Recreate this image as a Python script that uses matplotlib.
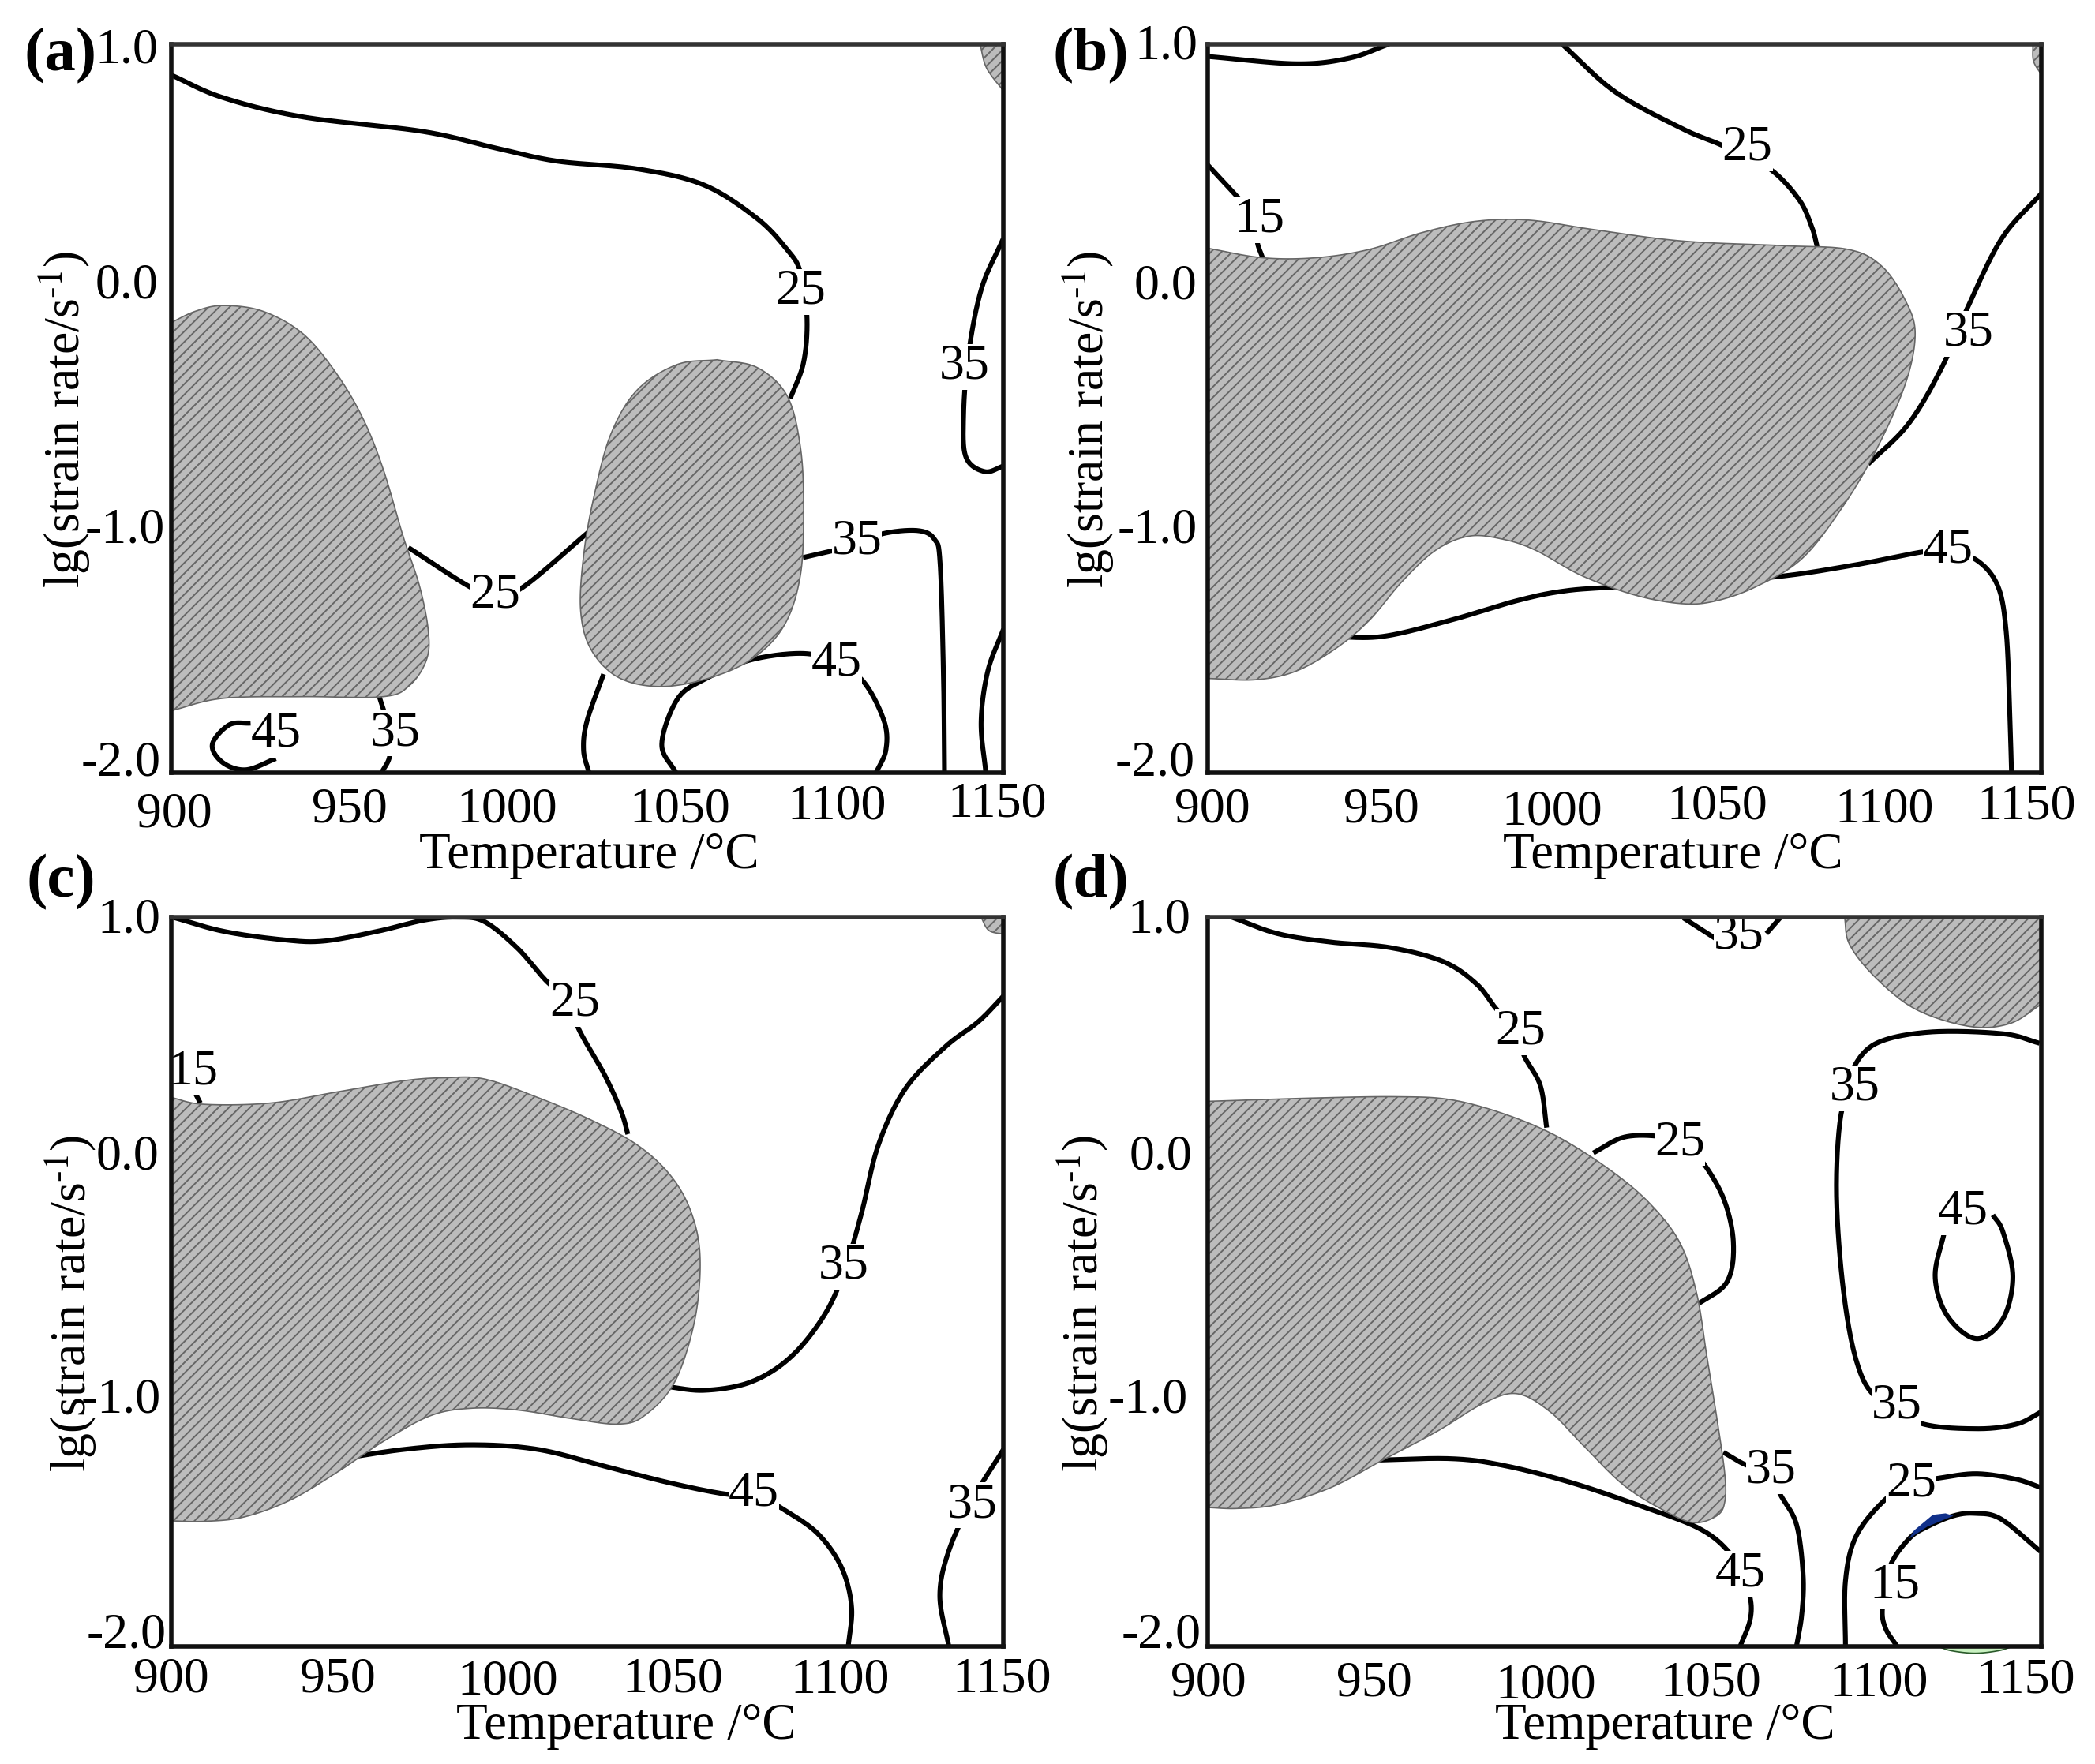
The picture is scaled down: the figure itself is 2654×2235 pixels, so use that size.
import numpy as np
import matplotlib
matplotlib.use('Agg')
import matplotlib.pyplot as plt
from matplotlib.transforms import ScaledTranslation

plt.rcParams['font.family'] = ['Liberation Serif', 'DejaVu Serif']
plt.rcParams['mathtext.fontset'] = 'stix'
plt.rcParams['mathtext.default'] = 'regular'
plt.rcParams['hatch.linewidth'] = 0.7
plt.rcParams['hatch.color'] = '#666666'

W, H = 2654, 2235
DPI = 200
DISP_W, DISP_H = 1568.0, 1320.0
PT = 0.609  # points per unit of the 1568-wide layout grid

x_ticks = [900, 950, 1000, 1050, 1100, 1150]
y_ticks = [1.0, 0.0, -1.0, -2.0]
y_tick_labels = ['1.0', '0.0', '-1.0', '-2.0']

# ---------- panel (a) ----------
a_regions = [
    [(900,-0.147),(907.4,-0.10),(915.5,-0.077),(927.5,-0.10),(939.6,-0.193),(949.6,-0.355),(957.6,-0.541),
     (963.7,-0.75),(969.7,-1.027),(974.7,-1.236),(977.3,-1.421),(976.7,-1.537),(971.7,-1.641),(963.7,-1.688),
     (939.6,-1.688),(915.5,-1.695),(900,-1.746)],
    [(1064,-0.30),(1076,-0.332),(1085,-0.448),(1089,-0.657),(1090,-0.911),(1089,-1.19),(1084,-1.398),(1074,-1.537),
     (1060,-1.618),(1046,-1.646),(1034,-1.606),(1026,-1.49),(1023,-1.329),(1024,-1.097),(1027,-0.865),(1032,-0.61),
     (1040,-0.425),(1052,-0.32),(1064,-0.30)],
]
a_corner = [(1143,1.0),(1144.4,0.919),(1146.4,0.87),(1150,0.808)]
a_lines = [
    [(900,0.873),(915.5,0.78),(939.6,0.70),(975.7,0.64),(997.8,0.571),(1015.9,0.518),(1040,0.486),(1060,0.42),
     (1076,0.282),(1085,0.154),(1089,0.062),(1091,-0.124),(1090,-0.31),(1086,-0.46)],
    [(971.3,-1.074),(989.8,-1.236),(997.4,-1.27),(1005.8,-1.236),(1025.9,-1.004)],
    [(1150,0.2),(1143.4,-0.008),(1139.4,-0.286),(1138,-0.541),(1138.8,-0.703),(1144.4,-0.761),(1150,-0.738)],
    [(1089.8,-1.115),(1106,-1.062),(1114,-1.016),(1124.3,-1.004),(1129.3,-1.04),(1131,-1.143),(1132,-1.606),(1132.3,-2)],
    [(1150,-1.41),(1145.3,-1.583),(1143.3,-1.792),(1144.7,-2)],
    [(1051.6,-2),(1047.4,-1.884),(1052,-1.70),(1060,-1.618),(1074,-1.537),(1090,-1.51),(1100,-1.55),(1108.2,-1.63),
     (1114.2,-1.79),(1114.7,-1.908),(1111.8,-2)],
    [(1029.9,-1.595),(1024.9,-1.79),(1023.9,-1.908),(1025.5,-2)],
    [(962.6,-1.69),(965.3,-1.815),(965.7,-1.93),(963.3,-2)],
    [(923.9,-1.797),(917.5,-1.804),(912.4,-1.885),(915.5,-1.959),(922.5,-1.989),(931.5,-1.943)],
]
a_labels = [('25',1089,-0.02),('25',997.4,-1.27),('35',1138.4,-0.33),('35',1106,-1.05),('45',1100,-1.55),
            ('45',931.5,-1.845),('35',967.3,-1.84)]

# ---------- panel (b) ----------
b_regions = [
    [(900,0.159),(916.4,0.12),(932.4,0.12),(948.3,0.154),(964.3,0.224),(980.3,0.27),(996.3,0.275),(1016.2,0.235),
     (1042.2,0.189),(1072.1,0.17),(1092.1,0.154),(1102.1,0.085),(1109.1,-0.054),(1112.1,-0.193),(1109.1,-0.402),
     (1100.1,-0.68),(1090.1,-0.911),(1078.1,-1.12),(1064.2,-1.236),(1052.2,-1.294),(1042.2,-1.305),(1028.2,-1.27),
     (1012.2,-1.19),(998.3,-1.085),(988.3,-1.039),(978.3,-1.027),(968.3,-1.085),(958.3,-1.213),(948.3,-1.375),
     (938.3,-1.49),(926.4,-1.583),(914.4,-1.618),(900,-1.613)],
]
b_corner = [(1147.4,1.0),(1147.6,0.93),(1150,0.873)]
b_lines = [
    [(900,0.949),(926.4,0.919),(942.3,0.942),(954.3,1.0)],
    [(1006.2,1.0),(1022.2,0.803),(1042.2,0.652),(1054.2,0.583),(1068.1,0.49),(1077.1,0.363),(1081.1,0.247),(1082.7,0.166)],
    [(900,0.502),(909.4,0.363),(915.4,0.275),(914.8,0.19),(916.4,0.12)],
    [(936,-1.44),(952.3,-1.44),(972.3,-1.375),(992.3,-1.294),(1006.2,-1.254),(1022.2,-1.236),(1066.1,-1.2),
     (1092.1,-1.15),(1114.1,-1.092),(1122,-1.085),(1131,-1.13),(1137,-1.236),(1139.4,-1.42),(1140.4,-1.72),(1141,-2)],
    [(1098,-0.73),(1110.1,-0.564),(1120.1,-0.332),(1128.1,-0.077),(1138.1,0.2),(1150,0.386)],
]
b_labels = [('25',1061.8,0.571),('15',915.4,0.275),('35',1128.1,-0.193),('45',1122,-1.085)]

# ---------- panel (c) ----------
c_regions = [
    [(900,0.257),(909.8,0.229),(929.9,0.234),(950,0.28),(970,0.326),(982,0.338),(994.1,0.333),(1010.1,0.257),
     (1026.2,0.164),(1040.2,0.06),(1050.2,-0.067),(1056.3,-0.218),(1058.9,-0.403),(1057.3,-0.658),(1051.3,-0.912),
     (1042.2,-1.051),(1034.2,-1.086),(1020.2,-1.063),(1004.1,-1.028),(990.1,-1.021),(978,-1.051),(964,-1.155),
     (950,-1.283),(935.9,-1.398),(921.9,-1.468),(909.8,-1.486),(900,-1.484)],
]
c_corner = [(1143.2,1.0),(1145.6,0.944),(1150,0.928)]
c_lines = [
    [(900,1.0),(915.8,0.94),(933.9,0.905),(945.9,0.90),(962,0.94),(976,0.986),(986,0.998),(994.1,0.98),(1004.1,0.87),
     (1013.1,0.731),(1021.2,0.643),(1022.2,0.546),(1030.2,0.35),(1035.2,0.199),(1037.2,0.106)],
    [(906.8,0.287),(908.8,0.234)],
    [(948,-1.235),(970,-1.19),(990.1,-1.171),(1010.1,-1.19),(1030.2,-1.259),(1050.2,-1.329),(1067.3,-1.375),
     (1075,-1.371),(1084.3,-1.44),(1094.3,-1.537),(1101.4,-1.676),(1104.4,-1.838),(1103.4,-2)],
    [(1048,-0.93),(1060.3,-0.947),(1074.3,-0.912),(1086.3,-0.808),(1096.4,-0.634),(1102.4,-0.449),(1107.4,-0.218),
     (1112.4,0.06),(1120.5,0.292),(1132.5,0.465),(1142.5,0.569),(1150,0.674)],
    [(1150,-1.19),(1140.6,-1.398),(1133.6,-1.607),(1130.9,-1.792),(1133.6,-2)],
]
c_labels = [('25',1021.2,0.643),('15',906.5,0.36),('35',1102,-0.438),('45',1075,-1.371),('35',1140.6,-1.42)]

# ---------- panel (d) ----------
d_regions = [
    [(900,0.241),(932.8,0.255),(956.7,0.26),(972.7,0.248),(988.7,0.19),(1004.6,0.098),(1020.6,-0.041),(1032.6,-0.18),
     (1041.6,-0.342),(1046.6,-0.55),(1049.6,-0.804),(1052.6,-1.059),(1055,-1.29),(1055,-1.406),(1052.6,-1.463),
     (1045.6,-1.491),(1036.6,-1.44),(1024.6,-1.336),(1012.6,-1.174),(1002.6,-1.035),(992.7,-0.961),(982.7,-1.0),
     (968.7,-1.116),(952.7,-1.232),(936.7,-1.348),(920.8,-1.417),(908.8,-1.433),(900,-1.429)],
]
d_corner = [(1090.9,1.0),(1092.5,0.884),(1100.5,0.746),(1112.5,0.618),(1128.5,0.549),(1140.5,0.561),(1150,0.641)]
d_lines = [
    [(906.8,1.0),(920.8,0.931),(936.7,0.896),(954.7,0.873),(970.7,0.815),(980.7,0.722),(986.7,0.618),(993.7,0.526),
     (994.7,0.433),(999.7,0.306),(1001.6,0.133)],
    [(1042.6,0.995),(1052.6,0.907)],
    [(1067.5,0.931),(1071.9,1.0)],
    [(1015.6,0.029),(1024.6,0.093),(1034.6,0.098),(1041.6,0.07),(1047.6,0.005),(1054.6,-0.157),(1057.6,-0.342),
     (1055.6,-0.503),(1046.6,-0.596)],
    [(1149.4,0.48),(1138.4,0.519),(1116.5,0.526),(1100.5,0.48),(1093.5,0.375),(1093.9,0.295),(1089.9,0.19),(1088.5,-0.133),
     (1090.5,-0.527),(1094.5,-0.827),(1100.5,-0.978),(1113.6,-1.082),(1130.5,-1.105),(1142.5,-1.086),(1150,-1.035)],
    [(1135.4,-0.226),(1138.4,-0.295),(1141.4,-0.48),(1138.4,-0.654),(1130.5,-0.735),(1121.8,-0.642),(1118.1,-0.48),
     (1120.9,-0.295)],
    [(948,-1.235),(972.7,-1.228),(988.7,-1.256),(1008.6,-1.325),(1028.6,-1.417),(1046.6,-1.51),(1055.6,-1.602),
     (1059.6,-1.702),(1062.6,-1.799),(1062.6,-1.891),(1059.6,-2)],
    [(1054.6,-1.202),(1061.6,-1.255),(1068.9,-1.278),(1071.5,-1.371),(1076.5,-1.498),(1078.5,-1.706),(1078.1,-1.868),(1076.5,-2)],
    [(1091.2,-2),(1091.2,-1.73),(1094.5,-1.544),(1103.2,-1.395),(1110.9,-1.332),(1119.8,-1.307),(1130.7,-1.29),
     (1142.4,-1.313),(1150,-1.348)],
    [(1106.7,-2),(1103.2,-1.925),(1102.3,-1.84),(1104.6,-1.67),(1110.3,-1.557),(1115.7,-1.508),(1123.6,-1.463),
     (1130,-1.453),(1137.8,-1.476),(1149.7,-1.61)],
]
d_labels = [('35',1059.2,0.919),('25',993.7,0.526),('25',1041.6,0.07),('35',1093.9,0.295),('45',1126.5,-0.214),
            ('35',1106.5,-1.012),('35',1068.9,-1.278),('25',1110.9,-1.332),('45',1059.6,-1.702),('15',1105.9,-1.752)]
d_blue = [(1110.3,-1.557),(1111.8,-1.523),(1117.4,-1.459),(1121.2,-1.453),(1123.6,-1.463),(1115.7,-1.508)]
d_green = [(1118.9,-2.0),(1123,-2.018),(1130,-2.028),(1137,-2.018),(1141.4,-2.0)]


def smooth(points, n=24):
    p = np.array(points, float)
    if len(p) < 3:
        return p[:, 0], p[:, 1]
    q = np.vstack([2*p[0]-p[1], p, 2*p[-1]-p[-2]])
    out = []
    for i in range(1, len(q)-2):
        t = np.linspace(0, 1, n, endpoint=False)[:, None]
        out.append(0.5*(2*q[i] + (q[i+1]-q[i-1])*t + (2*q[i-1]-5*q[i]+4*q[i+1]-q[i+2])*t**2
                        + (3*q[i]-q[i-1]-3*q[i+1]+q[i+2])*t**3))
    out.append(p[-1:])
    r = np.vstack(out)
    return r[:, 0], r[:, 1]


def disp_axes(l, r, t, b):
    return [l/DISP_W, 1-b/DISP_H, (r-l)/DISP_W, (b-t)/DISP_H]


panels = [
    dict(tag='(a)', box=(128,751,33,578), regions=a_regions, corner=a_corner, lines=a_lines, labels=a_labels,
         tagpos=(18,42), xl=(0.502,-0.114), yl=(-0.127,0.484),
         xdx=[2.5,9,2,7,0,-4.5], xdy=[-5,-1,-1,-1,1,3], ydx=[0,0,5,2], ydy=[-1,5,3,11]),
    dict(tag='(b)', box=(904,1528,33,578), regions=b_regions, corner=b_corner, lines=b_lines, labels=b_labels,
         tagpos=(788,42), xl=(0.558,-0.114), yl=(-0.143,0.484),
         xdx=[3.5,5,8,7,7,-11.5], xdy=[-1,-1,-3,1,-1,1], ydx=[2,2,2,0], ydy=[2,4,3,11]),
    dict(tag='(c)', box=(128,751,686,1232), regions=c_regions, corner=c_corner, lines=c_lines, labels=c_labels,
         tagpos=(20,660), xl=(0.547,-0.11), yl=(-0.12,0.47),
         xdx=[0,0,3,2,2,-1], xdy=[2,2,0,2,1,2], ydx=[2,1,2,6], ydy=[1,6,6,12]),
    dict(tag='(d)', box=(904,1528,686,1232), regions=d_regions, corner=d_corner, lines=d_lines, labels=d_labels,
         tagpos=(788,660), xl=(0.548,-0.11), yl=(-0.149,0.47),
         xdx=[0.5,0,3.5,2,3,-12], xdy=[-1,-1,-3,-1,-1,1], ydx=[-3,-2,-5,5], ydy=[1,6,6,12]),
]

FS = 23
fig = plt.figure(figsize=(W/DPI, H/DPI), dpi=DPI, facecolor='white')

for pn in panels:
    ax = fig.add_axes(disp_axes(*pn['box']))
    ax.set_xlim(900, 1150)
    ax.set_ylim(-2, 1)
    for s in ax.spines.values():
        s.set_linewidth(2.0)
        s.set_color('#111111')
        s.set_zorder(6)
    ax.spines['top'].set_color('#333333')
    ax.set_xticks(x_ticks)
    ax.set_yticks(y_ticks)
    ax.set_yticklabels(y_tick_labels)
    ax.tick_params(length=0, labelsize=FS, pad=6)
    for lab, dx, dy in zip(ax.get_xticklabels(), pn['xdx'], pn['xdy']):
        lab.set_transform(lab.get_transform() + ScaledTranslation(dx*PT/72, dy*PT/72, fig.dpi_scale_trans))
    for lab, dx, dy in zip(ax.get_yticklabels(), pn['ydx'], pn['ydy']):
        lab.set_transform(lab.get_transform() + ScaledTranslation(dx*PT/72, dy*PT/72, fig.dpi_scale_trans))
    for reg in pn['regions']:
        xs, ys = smooth(reg)
        ax.fill(xs, ys, facecolor='#bcbcbc', edgecolor='#666666', linewidth=0.6, hatch='/////', zorder=3)
    xs, ys = smooth(pn['corner'])
    ax.fill(np.append(xs, 1150), np.append(ys, 1.0), facecolor='#bcbcbc', edgecolor='#666666', linewidth=0.6,
            hatch='/////', zorder=3)
    for ln in pn['lines']:
        xs, ys = smooth(ln)
        ax.plot(xs, ys, color='black', lw=2.2, solid_capstyle='butt', zorder=2)
    for txt, x, y in pn['labels']:
        ax.text(x, y, txt, fontsize=FS, ha='center', va='center', zorder=5, clip_on=False,
                bbox=dict(facecolor='white', edgecolor='none', pad=0))
    ax.set_xlabel('Temperature /°C', fontsize=23.4, va='center')
    ax.xaxis.set_label_coords(*pn['xl'])
    ax.set_ylabel('lg(strain rate/s$^{\\text{-1}}$)', fontsize=FS, va='center')
    ax.yaxis.set_label_coords(*pn['yl'])
    fig.text(pn['tagpos'][0]/DISP_W, 1-pn['tagpos'][1]/DISP_H, pn['tag'], fontsize=28.5, fontweight='bold',
             ha='left', va='center')
    if pn['tag'] == '(d)':
        ax.fill(*zip(*d_blue), color='#10308a', lw=0, zorder=3)
        xs, ys = smooth(d_green)
        ax.fill(xs, ys, facecolor='#c8f0c0', edgecolor='#2a5a2a', lw=0.6, clip_on=False, zorder=1)

fig.savefig('out.png', dpi=DPI, facecolor='white')
